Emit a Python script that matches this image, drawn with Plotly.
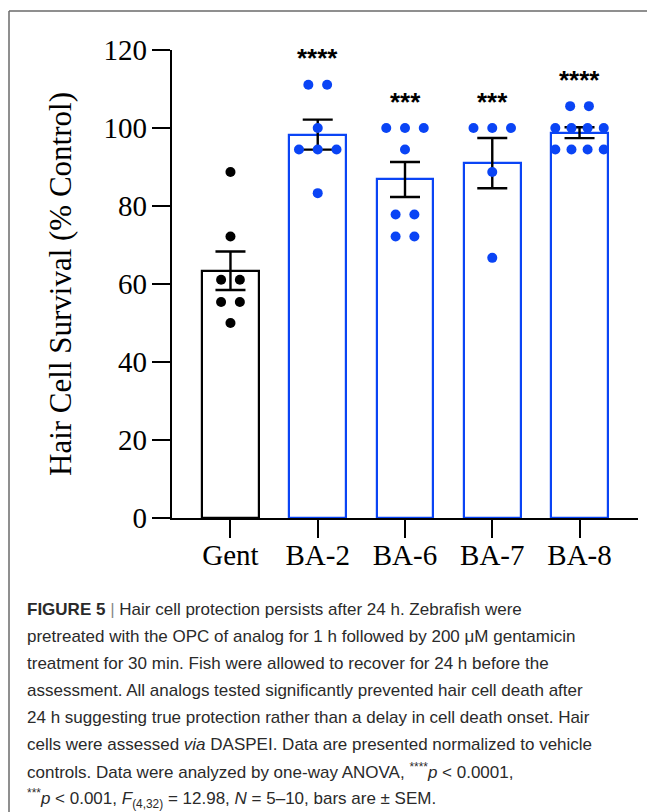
import plotly.graph_objects as go
import numpy as np

# ---------------- data ----------------
categories = ["Gent", "BA-2", "BA-6", "BA-7", "BA-8"]
gent_pts = [88.7, 72.2, 61.1, 61.1, 55.4, 55.4, 50.0]
ba2_pts = [111.1, 111.1, 100.0, 94.5, 94.5, 94.5, 83.3]
ba6_pts = [100.0, 100.0, 100.0, 94.5, 77.8, 77.8, 72.2, 72.2]
ba7_pts = [100.0, 100.0, 100.0, 88.7, 66.7]
ba8_pts = [105.6, 105.6, 100.0, 100.0, 100.0, 100.0, 94.5, 94.5, 94.5, 94.5]
bar_means = [63.4, 98.3, 86.8, 91.0, 98.8]
bar_sem = [4.95, 3.85, 4.5, 6.45, 1.4]
significance = ["", "****", "***", "***", "****"]
y_ticks = [0, 20, 40, 60, 80, 100, 120]

caption_lines = [
    "<b>FIGURE 5</b> <span style='color:#8a8a8a'>|</span> Hair cell protection persists after 24 h. Zebrafish were",
    "pretreated with the OPC of analog for 1 h followed by 200 \u03bcM gentamicin",
    "treatment for 30 min. Fish were allowed to recover for 24 h before the",
    "assessment. All analogs tested significantly prevented hair cell death after",
    "24 h suggesting true protection rather than a delay in cell death onset. Hair",
    "cells were assessed <i>via</i> DASPEI. Data are presented normalized to vehicle",
    "controls. Data were analyzed by one-way ANOVA, <sup>****</sup><i>p</i> &lt; 0.0001,",
    "<sup>***</sup><i>p</i> &lt; 0.001, <i>F</i><sub>(4,32)</sub> = 12.98, <i>N</i> = 5\u201310, bars are \u00b1 SEM.",
]

groups = [gent_pts, ba2_pts, ba6_pts, ba7_pts, ba8_pts]
BLACK = "#000000"
BLUE = "#0a44f5"
colors = [BLACK, BLUE, BLUE, BLUE, BLUE]

# ---------------- geometry (page pixels; page body has an 8px margin) ----------------
OFF = 8
W, H = 655 - OFF, 812 - OFF
PLOT_X0, PLOT_X1 = 172, 638     # page pixels of plot area
PLOT_Y0, PLOT_Y1 = 50, 518
L = PLOT_X0 - OFF
T = PLOT_Y0 - OFF
R = W - (PLOT_X1 - OFF)
B = H - (PLOT_Y1 - OFF)
PW, PH = W - L - R, H - T - B


def px(xp):
    return (xp - PLOT_X0) / PW


def py(yp):
    return (PLOT_Y1 - yp) / PH


def spread(vals):
    """Horizontal scatter offsets: identical values are spread side by side."""
    vals = np.asarray(vals)
    xs = np.zeros(len(vals))
    for v in np.unique(vals):
        idx = np.where(vals == v)[0]
        k = len(idx)
        step = 0.215 if k <= 3 else 0.185
        xs[idx] = (np.arange(k) - (k - 1) / 2) * step
    return xs


fig = go.Figure()

fig.add_trace(go.Bar(
    x=list(range(len(categories))),
    y=bar_means,
    width=0.65,
    marker=dict(color="white", line=dict(color=colors, width=2.2)),
    error_y=dict(type="data", array=bar_sem, visible=True,
                 color="black", thickness=2.4, width=15),
    showlegend=False,
))

for i, pts in enumerate(groups):
    fig.add_trace(go.Scatter(
        x=i + spread(pts),
        y=pts,
        mode="markers",
        marker=dict(color=colors[i], size=10, line=dict(width=0)),
        showlegend=False,
        cliponaxis=False,
    ))

annotations = []
for i, s in enumerate(significance):
    if s:
        annotations.append(dict(
            x=i, y=max(groups[i]) + 7.5, xref="x", yref="y",
            text="<b>" + s + "</b>", showarrow=False, yanchor="middle", yshift=-3,
            font=dict(family="Liberation Sans, Arial", size=26, color="black"),
        ))

# y-axis title
annotations.append(dict(
    x=px(60), y=py(284), xref="paper", yref="paper",
    text="Hair Cell Survival (% Control)", textangle=-90, showarrow=False,
    xanchor="center", yanchor="middle",
    font=dict(family="Liberation Serif, Times New Roman", size=31, color="black"),
))

for j, line in enumerate(caption_lines):
    annotations.append(dict(
        x=px(25), y=py(609 + 27 * j), xref="paper", yref="paper",
        text=line, showarrow=False, xanchor="left", yanchor="middle",
        align="left",
        font=dict(family="Liberation Sans, Arial", size=17, color="#2a2a2a"),
    ))

shapes = [
    dict(type="line", xref="paper", yref="paper", x0=px(9), x1=px(656),
         y0=py(11), y1=py(11), line=dict(color="#6a6a6a", width=1.5)),
    dict(type="line", xref="paper", yref="paper", x0=px(9), x1=px(9),
         y0=py(11), y1=py(813), line=dict(color="#6a6a6a", width=1.5)),
]

serif = dict(family="Liberation Serif, Times New Roman", size=29, color="black")

fig.update_layout(
    width=W, height=H,
    margin=dict(l=L, r=R, t=T, b=B, pad=0),
    paper_bgcolor="white", plot_bgcolor="white",
    annotations=annotations, shapes=shapes,
    bargap=0,
    xaxis=dict(
        range=[-0.67, 4.67], tickvals=list(range(len(categories))),
        ticktext=categories, showline=True, linecolor="black", linewidth=2.2,
        ticks="outside", ticklen=18, tickwidth=2.2, tickcolor="black",
        showgrid=False, zeroline=False, tickfont=serif,
        ticklabelstandoff=-8,
    ),
    yaxis=dict(
        range=[0, 120], tickvals=y_ticks, showline=True, linecolor="black",
        linewidth=2.2, ticks="outside", ticklen=18, tickwidth=2.2,
        tickcolor="black", showgrid=False, zeroline=False, tickfont=serif,
        ticklabelstandoff=-1,
    ),
)

fig.write_html("out.html")
